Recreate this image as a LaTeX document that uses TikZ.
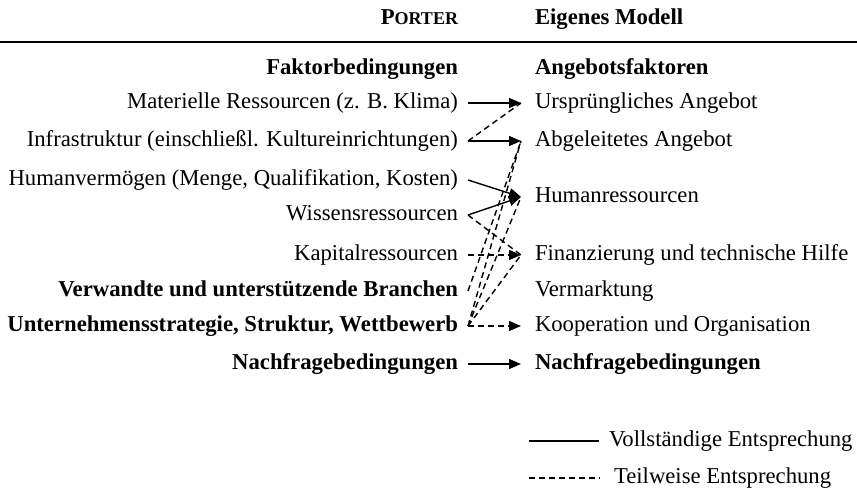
\documentclass[tikz,border=0pt]{standalone}
\usepackage{fontspec}
\setmainfont{Liberation Serif}
\usetikzlibrary{arrows.meta}

\begin{document}
\begin{tikzpicture}[x=0.5pt,y=-0.5pt,
   lft/.style={anchor=east,inner sep=0pt,outer xsep=5pt,text height=8pt,text depth=2.5pt,font=\fontsize{11.35}{14}\selectfont},
   rgt/.style={anchor=west,inner sep=0pt,outer xsep=7pt,text height=8pt,text depth=2.5pt,font=\fontsize{11.35}{14}\selectfont},
   full/.style={line width=0.7pt},
   part/.style={line width=0.7pt,dash pattern=on 3pt off 2pt},
   tip/.style={-{Triangle[length=6pt,width=5pt]}}]
   \useasboundingbox (0,0) rectangle (857,497);

   % Kopfzeile
   \node[lft] (hl) at (468,19) {\bfseries P{\fontsize{9}{11}\selectfont ORTER}};
   \node[rgt] (hr0) at (521,19) {\bfseries Eigenes Modell};
   \draw[line width=1pt] (0,42) -- (857,42);

   % linke Spalte
   \node[lft] (fb) at (468,69) {\bfseries Faktorbedingungen};
   \node[lft] (mr) at (468,103) {Materielle Ressourcen (z. B. Klima)};
   \node[lft] (inf) at (468,141) {Infrastruktur (einschließl. Kultureinrichtungen)};
   \node[lft] (hv) at (468,180) {Humanvermögen (Menge, Qualifikation, Kosten)};
   \node[lft] (wr) at (468,215) {Wissensressourcen};
   \node[lft] (kr) at (468,255) {Kapitalressourcen};
   \node[lft] (vb) at (468,291) {\bfseries Verwandte und unterstützende Branchen};
   \node[lft] (us) at (468,326) {\bfseries Unternehmensstrategie, Struktur, Wettbewerb};
   \node[lft] (nl) at (468,364) {\bfseries Nachfragebedingungen};

   % rechte Spalte
   \node[rgt] (af) at (521,69) {\bfseries Angebotsfaktoren};
   \node[rgt] (ua) at (521,103) {Ursprüngliches Angebot};
   \node[rgt] (aa) at (521,141) {Abgeleitetes Angebot};
   \node[rgt] (hr) at (521,197) {Humanressourcen};
   \node[rgt] (fi) at (521,255) {Finanzierung und technische Hilfe};
   \node[rgt] (vm) at (521,291) {Vermarktung};
   \node[rgt] (ko) at (521,326) {Kooperation und Organisation};
   \node[rgt] (nr) at (521,364) {\bfseries Nachfragebedingungen};

   % vollstaendige Entsprechung
   \draw[full,tip] (mr.east) -- (ua.west);
   \draw[full,tip] (inf.east) -- (aa.west);
   \draw[full,tip] (hv.east) -- (hr.west);
   \draw[full,tip] (wr.east) -- (hr.west);
   \draw[full,tip] (nl.east) -- (nr.west);

   % teilweise Entsprechung
   \draw[part] (inf.east) -- (ua.west);
   \draw[part,tip] (kr.east) -- (fi.west);
   \draw[part] (wr.east) -- (fi.west);
   \draw[part] (vb.east) -- (aa.west);
   \draw[part] (us.east) -- (aa.west);
   \draw[part] (us.east) -- (hr.west);
   \draw[part] (us.east) -- (fi.west);
   \draw[part,tip] (us.east) -- (ko.west);

   % Legende
   \coordinate (lg1) at (529,441);
   \node[rgt,outer xsep=5pt] (lgfull) at (599,441) {Vollständige Entsprechung};
   \draw[full] (lg1) -- (lgfull.west);
   \coordinate (lg2) at (529,478);
   \node[rgt,outer xsep=7pt] (lgpart) at (600,478) {Teilweise Entsprechung};
   \draw[part] (lg2) -- (lgpart.west);
\end{tikzpicture}
\end{document}
